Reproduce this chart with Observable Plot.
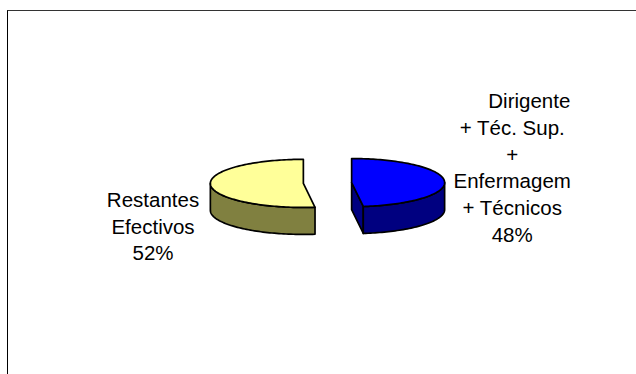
<!DOCTYPE html>
<html>
<head>
<meta charset="utf-8">
<script src="https://cdn.jsdelivr.net/npm/d3@7"></script>
<script src="https://cdn.jsdelivr.net/npm/@observablehq/plot@0.6"></script>
<style>
  html, body { margin: 0; padding: 0; background: #fff; overflow: hidden; }
  #frame { position: absolute; left: 7px; top: 10px; width: 700px; height: 400px;
           border-left: 1.5px solid #000; border-top: 1.5px solid #333; }
  #chart { position: absolute; left: 0; top: 0; }
</style>
</head>
<body>
<div id="frame"></div>
<div id="chart"></div>
<script>
// ---- data ----
const categories = ["Dirigente + Téc. Sup. + Enfermagem + Técnicos", "Restantes Efectivos"];
const labelLines = [
  ["\u00a0\u00a0\u00a0\u00a0\u00a0\u00a0Dirigente", "+ Téc. Sup.", "+", "Enfermagem", "+ Técnicos"],
  ["Restantes", "Efectivos"]
];
const values = [48, 52];
const topColors = ["#0000FF", "#FFFF99"];
const sideColors = ["#000080", "#808040"];

// ---- 3D pie geometry (unit radius) ----
const elev = 15 * Math.PI / 180, thick = 0.30, explode = 0.26;
const total = d3.sum(values);
let acc = 0;
const slices = values.map((v, i) => {
  const a0 = acc / total * 2 * Math.PI; acc += v;
  const a1 = acc / total * 2 * Math.PI;
  return {i, a0, a1, mid: (a0 + a1) / 2, value: v};
});
function P(s, t, r, h) {
  const gx = explode * Math.sin(s.mid) + r * Math.sin(t);
  const gz = explode * Math.cos(s.mid) + r * Math.cos(t);
  return {x: gx, y: gz * Math.sin(elev) + h * Math.cos(elev)};
}
function arc(s, a, b, h) {
  const n = Math.max(2, Math.ceil(Math.abs(b - a) / (Math.PI / 120)));
  return d3.range(n + 1).map(k => P(s, a + (b - a) * k / n, 1, h));
}
const sidePolys = [], topPolys = [];
slices.forEach(s => {
  if (Math.sin(s.a0) < -1e-6) sidePolys.push({color: sideColors[s.i], pts: [P(s, s.a0, 0, 0), P(s, s.a0, 1, 0), P(s, s.a0, 1, -thick), P(s, s.a0, 0, -thick)]});
  if (Math.sin(s.a1) > 1e-6) sidePolys.push({color: sideColors[s.i], pts: [P(s, s.a1, 0, 0), P(s, s.a1, 1, 0), P(s, s.a1, 1, -thick), P(s, s.a1, 0, -thick)]});
  const lo = Math.max(s.a0, Math.PI / 2), hi = Math.min(s.a1, 3 * Math.PI / 2);
  if (lo < hi) sidePolys.push({color: sideColors[s.i], pts: [...arc(s, lo, hi, 0), ...arc(s, hi, lo, -thick)]});
  topPolys.push({color: topColors[s.i], pts: [P(s, 0, 0, 0), ...arc(s, s.a0, s.a1, 0)]});
});

const pxPerUnit = 93, cx = 327, cy = 182.5, W = 636, H = 374;
const marks = [];
[...sidePolys, ...topPolys].forEach(poly => {
  marks.push(Plot.line(poly.pts, {x: "x", y: "y", curve: "linear-closed", fill: poly.color,
    stroke: "#000", strokeWidth: 1.7, strokeLinejoin: "round"}));
});
// labels
const labelDist = [1.99, 1.88], labelDy = [-27, 26];
slices.forEach(s => {
  const text = [...labelLines[s.i], s.value + "%"].join("\n");
  const L = labelDist[s.i];
  marks.push(Plot.text([s], {
    x: d => L * Math.sin(d.mid),
    y: d => L * Math.cos(d.mid) * Math.sin(elev) - thick / 2 * Math.cos(elev),
    text: () => text, textAnchor: "middle", lineAnchor: "middle",
    lineHeight: 1.3, fontSize: 20.5, fill: "#000", dy: labelDy[s.i]
  }));
});

const chart = Plot.plot({
  width: W, height: H, margin: 0,
  style: {fontFamily: "'Liberation Sans', Arial, sans-serif", background: "transparent", overflow: "visible"},
  x: {domain: [-cx / pxPerUnit, (W - cx) / pxPerUnit], range: [0, W], axis: null},
  y: {domain: [-(H - cy) / pxPerUnit, cy / pxPerUnit], range: [H, 0], axis: null},
  marks
});
document.getElementById("chart").appendChild(chart);
</script>
</body>
</html>
